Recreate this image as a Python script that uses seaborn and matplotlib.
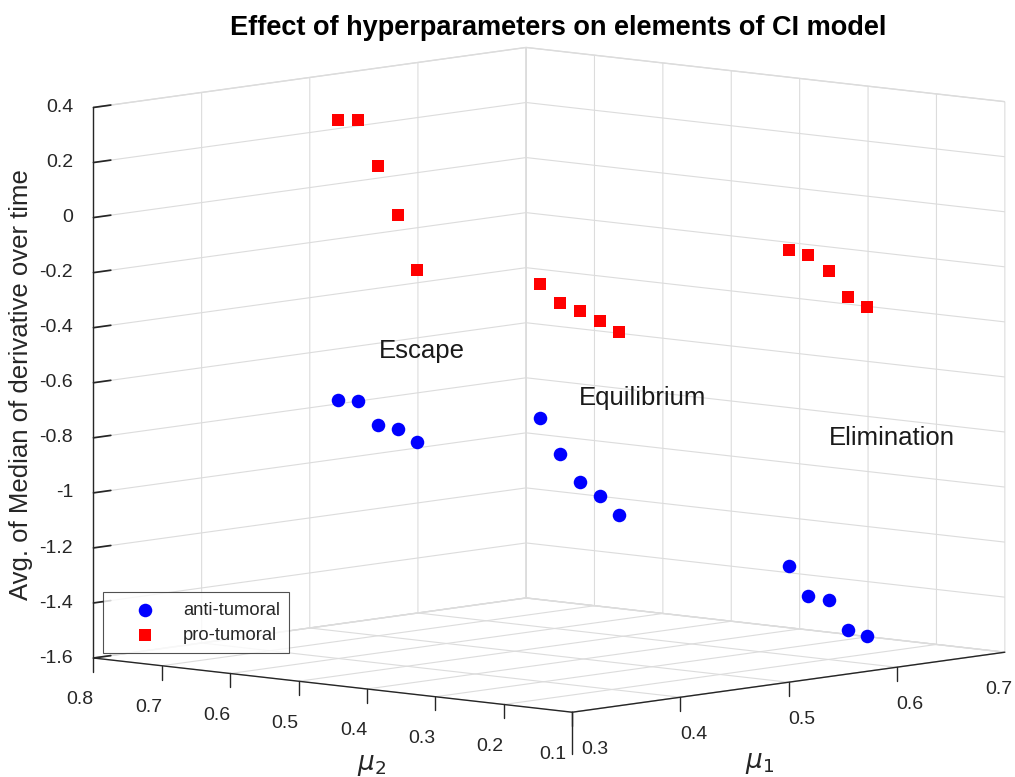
import numpy as np
import pandas as pd
import matplotlib
matplotlib.use("Agg")
import matplotlib.pyplot as plt
from matplotlib.axes import Axes
from matplotlib.transforms import ScaledTranslation
from mpl_toolkits.mplot3d import proj3d
import seaborn as sns

# ---------------- data ----------------
phases = ["Escape", "Equilibrium", "Elimination"]

escape_mu1 = [0.400, 0.418, 0.437, 0.455, 0.473]
escape_mu2 = [0.600, 0.600, 0.600, 0.600, 0.600]
escape_anti = [-0.660, -0.676, -0.773, -0.795, -0.853]
escape_pro = [0.358, 0.348, 0.169, -0.018, -0.230]

equil_mu1 = [0.400, 0.418, 0.437, 0.455, 0.473]
equil_mu2 = [0.305, 0.305, 0.305, 0.305, 0.305]
equil_anti = [-0.643, -0.784, -0.896, -0.956, -1.035]
equil_pro = [-0.156, -0.237, -0.274, -0.322, -0.369]

elim_mu1 = [0.500, 0.518, 0.537, 0.555, 0.573]
elim_mu2 = [0.100, 0.100, 0.100, 0.100, 0.100]
elim_anti = [-1.176, -1.295, -1.320, -1.439, -1.472]
elim_pro = [-0.031, -0.057, -0.127, -0.231, -0.278]

# text label anchors (mu1, mu2, z)
label_mu1 = [0.4375, 0.436, 0.537]
label_mu2 = [0.600, 0.305, 0.100]
label_z = [-0.505, -0.591, -0.732]

mu1_lim = (0.3, 0.7)
mu2_lim = (0.1, 0.8)
z_lim = (-1.6, 0.4)
mu1_ticks = [0.3, 0.4, 0.5, 0.6, 0.7]
mu1_ticklabels = ["0.3", "0.4", "0.5", "0.6", "0.7"]
mu2_ticks = [0.1, 0.2, 0.3, 0.4, 0.5, 0.6, 0.7, 0.8]
mu2_ticklabels = ["0.1", "0.2", "0.3", "0.4", "0.5", "0.6", "0.7", "0.8"]
z_ticks = [-1.6, -1.4, -1.2, -1, -0.8, -0.6, -0.4, -0.2, 0, 0.2, 0.4]
z_ticklabels = ["-1.6", "-1.4", "-1.2", "-1", "-0.8", "-0.6", "-0.4", "-0.2", "0", "0.2", "0.4"]

rows = []
for ph, m1, m2, za, zp in [
    ("Escape", escape_mu1, escape_mu2, escape_anti, escape_pro),
    ("Equilibrium", equil_mu1, equil_mu2, equil_anti, equil_pro),
    ("Elimination", elim_mu1, elim_mu2, elim_anti, elim_pro),
]:
    for a, b, c in zip(m1, m2, za):
        rows.append(dict(phase=ph, mu1=a, mu2=b, value=c, kind="anti-tumoral"))
    for a, b, c in zip(m1, m2, zp):
        rows.append(dict(phase=ph, mu1=a, mu2=b, value=c, kind="pro-tumoral"))
df = pd.DataFrame(rows)

# ---------------- style ----------------
sns.set_theme(style="white")
plt.rcParams["font.family"] = ["Liberation Sans", "DejaVu Sans"]
plt.rcParams["grid.color"] = "#dcdcdc"
plt.rcParams["grid.linewidth"] = 0.8
plt.rcParams["axes.edgecolor"] = "#262626"

AXC = "#262626"
palette = {"anti-tumoral": "#0000ff", "pro-tumoral": "#ff0000"}
markers = {"anti-tumoral": "o", "pro-tumoral": "s"}
sizes = {"anti-tumoral": 95, "pro-tumoral": 70}

W, H = 1015, 777
fig = plt.figure(figsize=(W / 100, H / 100), dpi=100)
S = 900
cx, cy = 537, 392
ax = fig.add_axes([(cx - S / 2) / W, (H - cy - S / 2) / H, S / W, S / H],
                  projection="3d", proj_type="ortho")
ax.view_init(elev=7.2, azim=-137.9)
ax.set_box_aspect((1, 1, 0.86), zoom=1.152)

for kind in ["anti-tumoral", "pro-tumoral"]:
    sub = df[df["kind"] == kind]
    ax.scatter(sub["mu1"], sub["mu2"], sub["value"], c=palette[kind],
               marker=markers[kind], s=sizes[kind], linewidths=0,
               depthshade=False, label=kind)

ax.set_xlim(*mu1_lim)
ax.set_ylim(*mu2_lim)
ax.set_zlim(*z_lim)
ax.set_xticks(mu1_ticks)
ax.set_xticklabels([])
ax.set_yticks(mu2_ticks)
ax.set_yticklabels([])
ax.set_zticks(z_ticks)
ax.set_zticklabels(z_ticklabels)

for axis in (ax.xaxis, ax.yaxis, ax.zaxis):
    axis.set_pane_color((1, 1, 1, 1))
    axis.pane.set_edgecolor("#dcdcdc")
    axis.line.set_color(AXC)
    axis.line.set_linewidth(1.0)
    axis._axinfo["grid"].update(color="#dcdcdc", linewidth=0.8)
    axis._axinfo["tick"]["inward_factor"] = 0.0
    axis._axinfo["tick"]["outward_factor"] = 0.0
ax.zaxis._axinfo["tick"]["outward_factor"] = 0.5
ax.tick_params(labelsize=14, colors=AXC)
ax.zaxis.set_tick_params(pad=-0.5)
for lbl in ax.get_zticklabels():
    lbl.set_ha("right")
    lbl.set_va("center")


def shifted(dx_px, dy_px):
    """transData followed by a small screen-space nudge (pixels)."""
    return ax.transData + ScaledTranslation(dx_px / 100, dy_px / 100, fig.dpi_scale_trans)


def text_at(x, y, z, s, dx=0, dy=0, **kw):
    """Place a plain 2-D text at the projected position of a 3-D data point."""
    M = ax.get_proj()
    x2, y2, _ = proj3d.proj_transform(x, y, z, M)
    return Axes.text(ax, x2, y2, s, transform=shifted(dx, dy), **kw)


# phase annotations
for ph, a, b, c in zip(phases, label_mu1, label_mu2, label_z):
    text_at(a, b, c, ph, fontsize=18.5, ha="left", va="center", color="#1a1a1a")

# MATLAB-style ticks on the floor edges: short vertical marks, labels below
z0 = z_lim[0]
tick_len = 0.05
corner_len = 0.15
lab_drop = 0.134
for i, (t, s) in enumerate(zip(mu1_ticks, mu1_ticklabels)):
    ln = corner_len if i == 0 else tick_len
    ax.plot([t, t], [mu2_lim[0], mu2_lim[0]], [z0, z0 - ln], color=AXC, lw=1.0)
    if i == len(mu1_ticks) - 1:
        ha, dx = "right", 8
    elif i == 0:
        ha, dx = "left", 9
    else:
        ha, dx = "left", 0
    text_at(t, mu2_lim[0], z0 - lab_drop, s, dx=dx, fontsize=14, color=AXC,
            ha=ha, va="center")
for i, (t, s) in enumerate(zip(mu2_ticks, mu2_ticklabels)):
    ax.plot([mu1_lim[0], mu1_lim[0]], [t, t], [z0, z0 - tick_len], color=AXC, lw=1.0)
    dx = -6 if i == 0 else 0
    text_at(mu1_lim[0], t, z0 - lab_drop, s, dx=dx, dy=-5, fontsize=14,
            color=AXC, ha="right", va="center")

ax.set_xlim(*mu1_lim)
ax.set_ylim(*mu2_lim)
ax.set_zlim(*z_lim)

ax.set_xlabel("")
ax.set_ylabel("")
ax.set_zlabel("")
lab_kw = dict(color=AXC, ha="center", va="center")
fig.text(760 / W, 1 - 763 / H, r"$\mu_1$", fontsize=19, **lab_kw)
fig.text(372 / W, 1 - 766 / H, r"$\mu_2$", fontsize=19, **lab_kw)
fig.text(21 / W, 1 - 385 / H, "Avg. of Median of derivative over time",
         fontsize=18.5, rotation=90, **lab_kw)

fig.suptitle("Effect of hyperparameters on elements of CI model",
             fontsize=19.5, fontweight="bold", x=558 / W, y=1 - 28 / H,
             va="center", color="black")

leg = fig.legend(loc="lower left", bbox_to_anchor=(103 / W, 1 - 653 / H),
                 borderaxespad=0, fancybox=False, frameon=True, fontsize=13.2,
                 handlelength=3.6, handletextpad=0.27, borderpad=0.5,
                 labelspacing=0.45)
leg.get_frame().set_edgecolor(AXC)
leg.get_frame().set_linewidth(0.8)

fig.savefig("out.png", dpi=100)
